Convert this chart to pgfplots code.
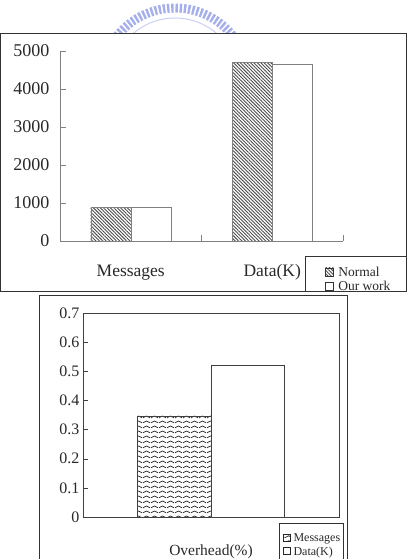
\documentclass[border=0pt]{standalone}
\usepackage{fontspec}
\setmainfont{Liberation Serif}
\usepackage{pgfplots}
\pgfplotsset{compat=1.18}
\usetikzlibrary{patterns,patterns.meta}
\definecolor{wm}{RGB}{165,175,235}
\definecolor{txt}{RGB}{40,40,40}
\pgfdeclarepatternformonly{wave}{\pgfqpoint{0pt}{0pt}}{\pgfqpoint{7.5pt}{5pt}}{\pgfqpoint{7.5pt}{5pt}}{%
  \pgfsetlinewidth{0.9pt}%
  \pgfpathmoveto{\pgfqpoint{0pt}{1.5pt}}%
  \pgfpathcurveto{\pgfqpoint{1.9pt}{1.5pt}}{\pgfqpoint{1.9pt}{3.5pt}}{\pgfqpoint{3.75pt}{3.5pt}}%
  \pgfpathcurveto{\pgfqpoint{5.6pt}{3.5pt}}{\pgfqpoint{5.6pt}{1.5pt}}{\pgfqpoint{7.5pt}{1.5pt}}%
  \pgfusepath{stroke}}
\begin{document}
\begin{tikzpicture}
\path[use as bounding box] (0pt,0pt) rectangle (407pt,559pt);
% faint watermark
\begin{scope}
\clip (90pt,526pt) rectangle (260pt,559pt);
\draw[wm, line width=9pt, dash pattern=on 2.4pt off 1.8pt] (175pt,477pt) circle (74pt);
\draw[wm!60!white, line width=1pt] (175pt,477pt) circle (64pt);
\end{scope}
% frames
\draw[black!80, line width=0.9pt] (0.5pt,268pt) rectangle (406.5pt,526pt);
\draw[black!80, line width=0.8pt] (305pt,268pt) rectangle (406.5pt,303pt);
\draw[black!80, line width=0.8pt] (39pt,0pt) -- (39pt,264pt) -- (347pt,264pt) -- (347pt,0pt);
\draw[black!80, line width=0.8pt] (279pt,0pt) -- (279pt,36pt) -- (343pt,36pt) -- (343pt,0pt);

% top chart
\begin{axis}[
  at={(60pt,318pt)}, anchor=south west,
  scale only axis, width=283pt, height=190pt,
  xmin=0, xmax=2, ymin=0, ymax=5000,
  axis lines=left, axis line style={gray, -},
  ybar, bar width=0.283,
  xtick={0.5,1.5}, xticklabels={Messages,Data(K)},
  minor xtick={0,1,2},
  major x tick style={draw=none},
  minor x tick style={gray},
  minor tick length=6pt,
  ytick={0,1000,2000,3000,4000,5000},
  y tick style={gray},
  major tick length=6pt,
  tick align=inside,
  scaled y ticks=false,
  /pgf/number format/1000 sep={},
  /pgf/number format/assume math mode=true,
  yticklabel style={xshift=-7pt, font=\fontsize{18}{18}\selectfont, text=txt},
  xticklabel style={anchor=base, yshift=-36pt, font=\fontsize{17.5}{17.5}\selectfont, text=txt},
  legend style={draw=none, fill=none, at={(axis description cs:0.936,-0.13)}, anchor=north west,
    font=\fontsize{13.5}{13.5}\selectfont, text=txt, row sep=1.5pt, inner sep=0pt,
    nodes={inner sep=1pt}},
  legend cell align=left,
  legend image code/.code={\draw[#1, draw=black!80, line width=0.5pt] (0pt,-3.5pt) rectangle (8pt,4.5pt); \path[draw=none,fill=none] (0pt,0pt) -- (12pt,0pt);},
]
\addplot[bar shift=-0.1415, draw=gray, pattern={Lines[angle=-45,distance=2.4pt,line width=0.9pt]}, pattern color=black!70] coordinates {(0.5,877) (1.5,4693)};
\addplot[bar shift=0.1415, draw=gray, fill=white] coordinates {(0.5,877) (1.5,4649)};
\legend{Normal, Our work}
\end{axis}

% bottom chart
\begin{axis}[
  at={(83pt,42pt)}, anchor=south west,
  scale only axis, width=256pt, height=204pt,
  xmin=-1, xmax=1, ymin=0, ymax=0.7,
  axis line style={black!75},
  ybar, bar width=0.574,
  xtick={0}, xticklabels={Overhead(\%)},
  major x tick style={draw=none},
  ytick={0,0.1,0.2,0.3,0.4,0.5,0.6,0.7},
  ytick pos=left,
  y tick style={black!75},
  major tick length=5pt,
  tick align=inside,
  /pgf/number format/assume math mode=true,
  yticklabel style={font=\fontsize{16}{16}\selectfont, text=txt, /pgf/number format/fixed, /pgf/number format/precision=1},
  xticklabel style={anchor=base, yshift=-39pt, font=\fontsize{15.5}{15.5}\selectfont, text=txt},
  legend style={draw=none, fill=none, at={(axis description cs:0.781,-0.075)}, anchor=north west,
    font=\fontsize{12}{12}\selectfont, text=txt, row sep=2pt, inner sep=0pt,
    nodes={inner sep=1pt}},
  legend cell align=left,
  legend image code/.code={\draw[#1, draw=black!85, line width=0.8pt] (0pt,-3pt) rectangle (7pt,4pt); \path[draw=none,fill=none] (0pt,0pt) -- (9pt,0pt);},
]
\addplot[bar shift=-0.287, draw=black!75, pattern=wave, pattern color=black!80] coordinates {(0,0.347)};
\addplot[bar shift=0.287, draw=black!75, fill=white] coordinates {(0,0.522)};
\legend{Messages, Data(K)}
\end{axis}
\end{tikzpicture}
\end{document}
